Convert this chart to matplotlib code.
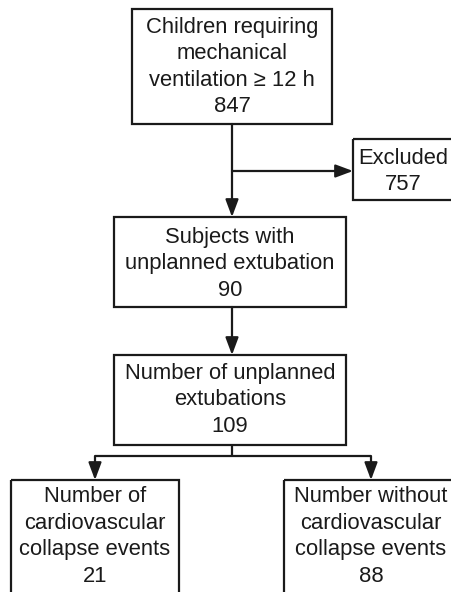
import matplotlib
matplotlib.use("Agg")
import matplotlib.pyplot as plt
from matplotlib.patches import Rectangle, FancyArrowPatch

# box labels and counts
labels = [
    "Children requiring\nmechanical\nventilation \u2265 12 h",
    "Excluded",
    "Subjects with\nunplanned extubation",
    "Number of unplanned\nextubations",
    "Number of\ncardiovascular\ncollapse events",
    "Number without\ncardiovascular\ncollapse events",
]
counts = [847, 757, 90, 109, 21, 88]

# box geometry in pixels (x0, y0, x1, y1), y grows downwards
boxes = [
    (132, 9, 332, 124),
    (353, 139, 460, 200),
    (114, 217, 346, 307),
    (114, 355, 346, 445),
    (11, 480, 179, 620),
    (284, 480, 460, 620),
]
text_top = [27, 158, 237, 373, 497, 497]
text_center_x = [232, 403, 230, 230, 95, 371]

LW = 1.6
FS = 15.8
LINE_STEP = 26.5

fig = plt.figure(figsize=(4.52, 5.92), dpi=100)
ax = fig.add_axes([0, 0, 1, 1])
ax.set_xlim(0, 452)
ax.set_ylim(592, 0)
ax.axis("off")

for (x0, y0, x1, y1), lab, n, ty, cx in zip(boxes, labels, counts, text_top, text_center_x):
    ax.add_patch(Rectangle((x0, y0), x1 - x0, y1 - y0, fill=False,
                           edgecolor="#1a1a1a", linewidth=LW))
    lines = lab.split("\n") + [str(n)]
    for i, line in enumerate(lines):
        ax.text(cx, ty + i * LINE_STEP, line, ha="center", va="center",
                fontsize=FS, family="Liberation Sans", color="#1a1a1a")


def arrow(x0, y0, x1, y1):
    ax.add_patch(FancyArrowPatch((x0, y0), (x1, y1), arrowstyle="-|>,head_length=0.75,head_width=0.28",
                                 mutation_scale=14, color="#1a1a1a", linewidth=LW,
                                 shrinkA=0, shrinkB=0))


def seg(xs, ys):
    ax.plot(xs, ys, color="#1a1a1a", linewidth=LW, solid_capstyle="butt")


# main trunk with exclusion branch
arrow(232, 124, 232, 217)
arrow(232, 171, 353, 171)
# box 2 -> box 3
arrow(232, 307, 232, 355)
# split
seg([232, 232], [445, 456])
seg([95, 371], [456, 456])
arrow(95, 456, 95, 480)
arrow(371, 456, 371, 480)

fig.savefig("out.png", dpi=100)
